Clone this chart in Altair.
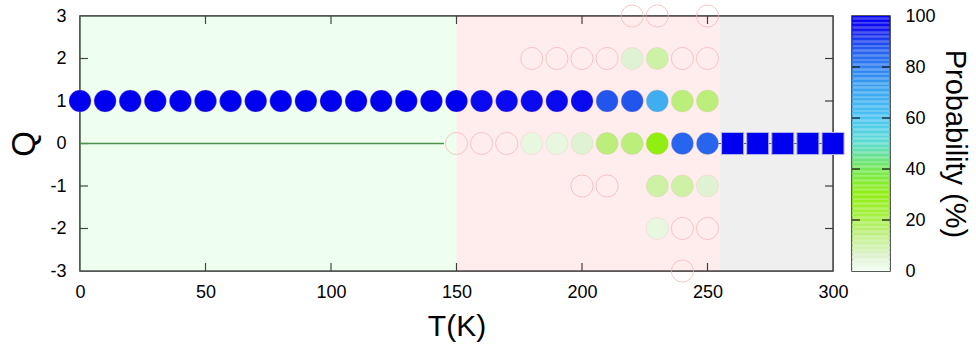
import altair as alt
import pandas as pd

# ---- charge-state probabilities (%) by temperature (K) ----
q3_T = [220, 230, 250]
q3_p = [0, 0, 0]

q2_T = [180, 190, 200, 210, 220, 230, 240, 250]
q2_p = [0, 0, 0, 0, 5, 10, 0, 0]

q1_T = [0, 10, 20, 30, 40, 50, 60, 70, 80, 90, 100, 110, 120, 130, 140,
        150, 160, 170, 180, 190, 200, 210, 220, 230, 240, 250]
q1_p = [100, 100, 100, 100, 100, 100, 100, 100, 100, 100, 100, 100, 100, 100, 100,
        100, 97, 97, 97, 97, 97, 88, 88, 68, 15, 15]

q0_T = [150, 160, 170, 180, 190, 200, 210, 220, 230, 240, 250]
q0_p = [0, 0, 0, 3, 3, 5, 15, 15, 30, 85, 85]

qm1_T = [200, 210, 230, 240, 250]
qm1_p = [0, 0, 10, 10, 5]

qm2_T = [230, 240, 250]
qm2_p = [3, 0, 0]

qm3_T = [240]
qm3_p = [0]

# high-temperature phase (square markers)
sq_T = [260, 270, 280, 290, 300]
sq_Q = [0, 0, 0, 0, 0]
sq_p = [100, 100, 100, 100, 100]

# reference lines along Q = 0
zero_low_T = [0, 145]
zero_high_T = [250, 300]

# temperature regimes shaded in the background
region_name = ["low", "mid", "high"]
region_start = [0, 150, 255]
region_end = [150, 255, 300]

x_ticks = [0, 50, 100, 150, 200, 250, 300]
y_ticks = [-3, -2, -1, 0, 1, 2, 3]
cbar_ticks = [0, 20, 40, 60, 80, 100]

# ---- tables ----
rows = []
for q, ts, ps in [(3, q3_T, q3_p), (2, q2_T, q2_p), (1, q1_T, q1_p), (0, q0_T, q0_p),
                  (-1, qm1_T, qm1_p), (-2, qm2_T, qm2_p), (-3, qm3_T, qm3_p)]:
    for t, p in zip(ts, ps):
        rows.append({"T": t, "Q": q, "p": p})
circles = pd.DataFrame(rows)
squares = pd.DataFrame({"T": sq_T, "Q": sq_Q, "p": sq_p})
regions = pd.DataFrame({"name": region_name, "start": region_start, "end": region_end})
zero_low = pd.DataFrame({"T": zero_low_T, "Q": [0] * len(zero_low_T)})
zero_high = pd.DataFrame({"T": zero_high_T, "Q": [0] * len(zero_high_T)})

W, H = 753, 255
CB_W = 38
FONT = "Liberation Sans"

xscale = alt.Scale(domain=[0, 300], nice=False, zero=False)
yscale = alt.Scale(domain=[-3, 3], nice=False, zero=False)

# white -> yellow-green -> green -> cyan -> blue palette
prob_scale = alt.Scale(
    domain=[0, 5, 10, 15, 20, 30, 40, 50, 60, 70, 80, 88, 95, 100],
    range=["#f2fff2", "#e0f2d4", "#cdf2a6", "#bcee7c", "#a8f04c", "#90ee10",
           "#74e858", "#5cdcd0", "#4cc4f4", "#3ca8f0", "#3080f0", "#2255ee",
           "#1010f0", "#0000f0"],
    interpolate="rgb",
)

x_axis = alt.Axis(values=x_ticks, ticks=False, domain=False, grid=False,
                  labelFlush=False, labelFontSize=18, labelPadding=12, title="T(K)",
                  titleFontSize=30, titlePadding=10)
y_axis = alt.Axis(values=y_ticks, ticks=False, domain=False, grid=False,
                  labelFlush=False, labelFontSize=18, labelPadding=14,
                  labelExpr="toString(datum.value)",
                  title="Q", titleFontSize=33, titlePadding=8)

base_x = alt.X("T:Q", scale=xscale, axis=x_axis)
base_y = alt.Y("Q:Q", scale=yscale, axis=y_axis)

# inward tick marks on all four sides
xt = pd.DataFrame({"T": x_ticks[1:-1]})
yt = pd.DataFrame({"Q": y_ticks[1:-1]})
tick_style = dict(color="#111111", strokeWidth=1.2)
ticks_bottom = alt.Chart(xt).mark_rule(**tick_style).encode(
    x=alt.X("T:Q", scale=xscale, axis=x_axis), y=alt.value(H), y2=alt.value(H - 8))
ticks_top = alt.Chart(xt).mark_rule(**tick_style).encode(
    x="T:Q", y=alt.value(0), y2=alt.value(8))
ticks_left = alt.Chart(yt).mark_rule(**tick_style).encode(
    y=alt.Y("Q:Q", scale=yscale, axis=y_axis), x=alt.value(0), x2=alt.value(8))
ticks_right = alt.Chart(yt).mark_rule(**tick_style).encode(
    y="Q:Q", x=alt.value(W), x2=alt.value(W - 8))

background = alt.Chart(regions).mark_rect(opacity=0.25).encode(
    x="start:Q", x2="end:Q", y=alt.value(0), y2=alt.value(H),
    fill=alt.Fill("name:N", scale=alt.Scale(domain=region_name,
                                            range=["#c0ffc0", "#ffb8b8", "#c0c0c0"]),
                  legend=None),
)

line_low = alt.Chart(zero_low).mark_line(color="#4f8f4f", strokeWidth=1.5).encode(
    x="T:Q", y="Q:Q")
line_high = alt.Chart(zero_high).mark_line(color="#555555", strokeWidth=1.2).encode(
    x="T:Q", y="Q:Q")

points = alt.Chart(circles).mark_point(shape="circle", filled=True, size=490, opacity=1,
                                       stroke="#f0b0b0", strokeWidth=1).encode(
    x=base_x, y=base_y,
    color=alt.Color("p:Q", scale=prob_scale, legend=None),
    fillOpacity=alt.condition("datum.p > 0", alt.value(1), alt.value(0)),
    strokeOpacity=alt.condition("datum.p > 0", alt.value(0.25), alt.value(0.7)),
)

boxes = alt.Chart(squares).mark_square(size=484, filled=True, opacity=1,
                                       stroke="#b0b0e8", strokeWidth=1).encode(
    x="T:Q", y="Q:Q",
    color=alt.Color("p:Q", scale=prob_scale, legend=None),
)

main = alt.layer(ticks_bottom, ticks_top, ticks_left, ticks_right, background,
                 line_low, line_high, points, boxes).properties(width=W, height=H)

# ---- colour bar ----
cb_y_axis = alt.Axis(orient="right", values=cbar_ticks, ticks=False, domain=False,
                     grid=False, labelFlush=False, labelFontSize=18, labelPadding=15,
                     title="Probability (%)", titleFontSize=29, titleAngle=90,
                     titlePadding=4)
cb_scale = alt.Scale(domain=[0, 100], nice=False, zero=False)
bands = alt.Chart(alt.sequence(0, 100, 0.5, as_="v")).transform_calculate(
    v2="datum.v + 0.5").mark_rect().encode(
    y=alt.Y("v:Q", scale=cb_scale, axis=cb_y_axis),
    y2="v2:Q",
    x=alt.value(0), x2=alt.value(CB_W),
    color=alt.Color("v:Q", scale=prob_scale, legend=None),
)
cb_tk = pd.DataFrame({"v": cbar_ticks[1:-1]})
cb_ticks_l = alt.Chart(cb_tk).mark_rule(color="#111111", strokeWidth=1.2).encode(
    y="v:Q", x=alt.value(0), x2=alt.value(8))
cb_ticks_r = alt.Chart(cb_tk).mark_rule(color="#111111", strokeWidth=1.2).encode(
    y="v:Q", x=alt.value(CB_W - 8), x2=alt.value(CB_W))
cbar = alt.layer(bands, cb_ticks_l, cb_ticks_r).properties(width=CB_W, height=H)

chart = alt.hconcat(main, cbar, spacing=19, bounds="flush").properties(
    padding={"left": 8, "top": 2, "right": 5, "bottom": 2},
    background="white",
).resolve_scale(color="shared").configure_view(
    stroke="#222222", strokeWidth=1.5
).configure_axis(
    labelFont=FONT, titleFont=FONT, labelColor="#000000", titleColor="#000000",
    titleFontWeight="normal",
)

chart.save("out.html", embed_options={"renderer": "svg", "actions": False})
